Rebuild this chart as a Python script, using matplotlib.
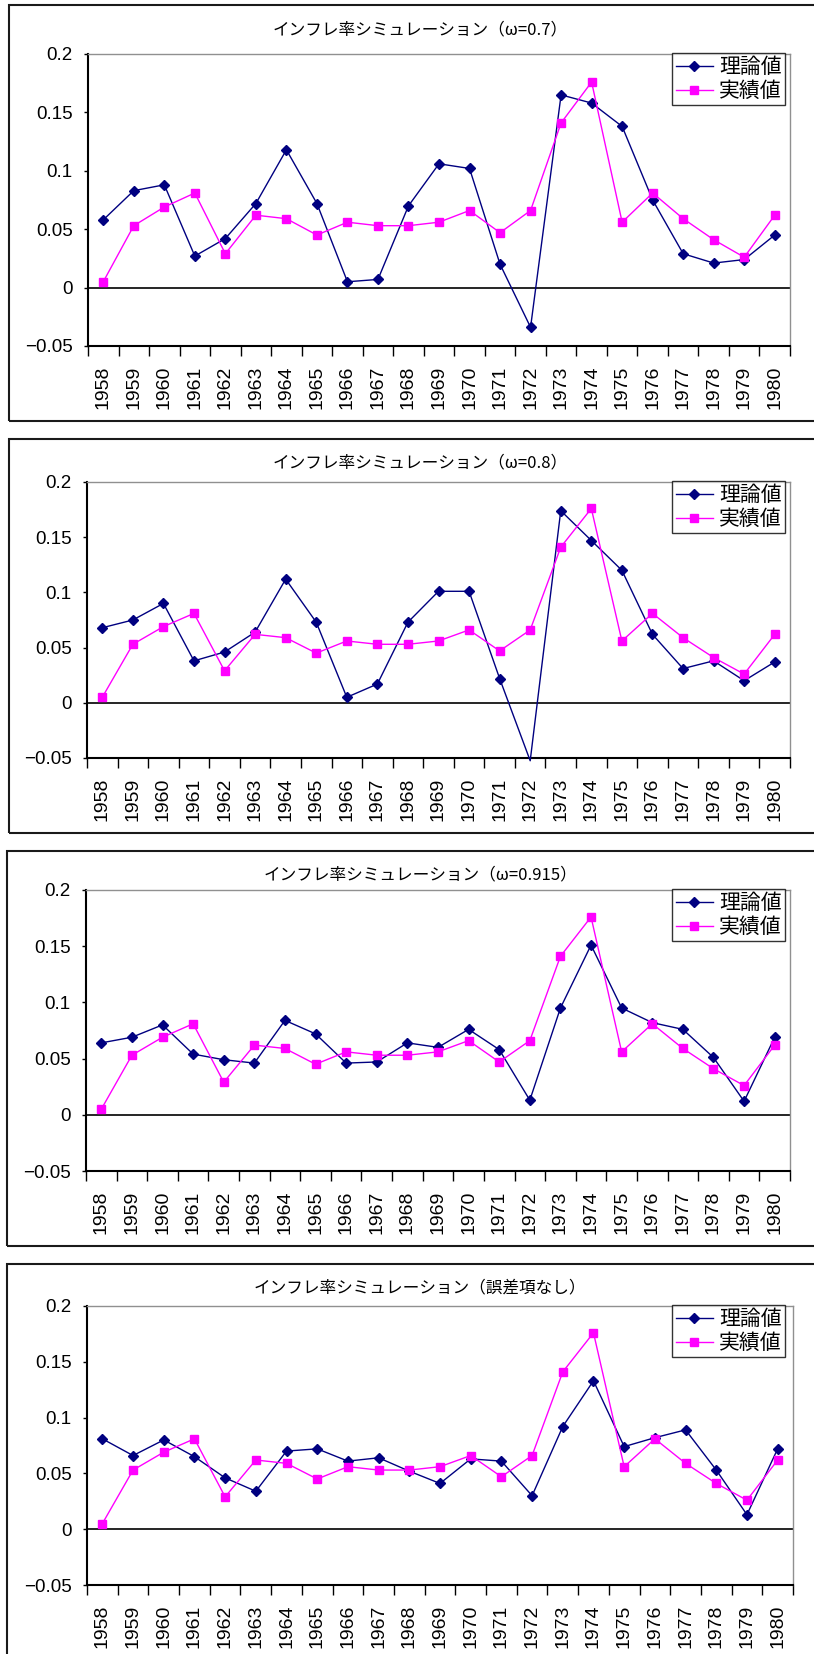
import numpy as np
import matplotlib
matplotlib.use("Agg")
import matplotlib.pyplot as plt
from matplotlib.patches import Rectangle

plt.rcParams['font.family'] = ['Liberation Sans', 'Noto Sans CJK JP', 'DejaVu Sans']
JP = ['Noto Sans CJK JP', 'DejaVu Sans']

years = [str(y) for y in range(1958, 1981)]

# 実績値 (same in every panel)
actual = [0.005, 0.053, 0.069, 0.081, 0.029, 0.062, 0.059, 0.045, 0.056, 0.053, 0.053,
          0.056, 0.066, 0.047, 0.066, 0.141, 0.176, 0.056, 0.081, 0.059, 0.041, 0.026, 0.062]

# 理論値 for each simulation
theory_07 = [0.058, 0.083, 0.088, 0.027, 0.042, 0.072, 0.118, 0.072, 0.005, 0.007, 0.070,
             0.106, 0.102, 0.020, -0.034, 0.165, 0.158, 0.138, 0.075, 0.029, 0.021, 0.024, 0.045]
theory_08 = [0.068, 0.075, 0.090, 0.038, 0.046, 0.064, 0.112, 0.073, 0.005, 0.017, 0.073,
             0.101, 0.101, 0.022, -0.0525, 0.174, 0.147, 0.120, 0.062, 0.031, 0.038, 0.020, 0.037]
theory_0915 = [0.064, 0.069, 0.080, 0.054, 0.049, 0.046, 0.084, 0.072, 0.046, 0.047, 0.064,
               0.060, 0.076, 0.058, 0.013, 0.095, 0.151, 0.095, 0.082, 0.076, 0.051, 0.012, 0.069]
theory_none = [0.081, 0.066, 0.080, 0.065, 0.046, 0.034, 0.070, 0.072, 0.061, 0.064, 0.052,
               0.041, 0.063, 0.061, 0.030, 0.092, 0.133, 0.074, 0.082, 0.089, 0.053, 0.013, 0.072]

titles = ['インフレ率シミュレーション（ω=0.7）',
          'インフレ率シミュレーション（ω=0.8）',
          'インフレ率シミュレーション（ω=0.915）',
          'インフレ率シミュレーション（誤差項なし）']
theories = [theory_07, theory_08, theory_0915, theory_none]

W, H = 814, 1654
fig = plt.figure(figsize=(W / 100, H / 100), dpi=100)

# pixel boxes: (left, top, right, bottom) of plot area, frame top/bottom, title y
axes_px = [(88, 54, 790, 346), (87, 482, 790, 758), (86, 890, 790, 1171), (87, 1306, 793, 1585)]
frames_px = [(9, 5, 421), (9, 439, 833), (7, 851, 1246), (7, 1264, 1700)]
title_y = [30, 463, 875, 1288]

x = np.arange(len(years))

for i in range(4):
    fl, ft, fb = frames_px[i]
    fig.add_artist(Rectangle((fl / W, 1 - fb / H), (W + 20 - fl) / W, (fb - ft) / H,
                             transform=fig.transFigure, fill=False,
                             edgecolor='#1a1a1a', lw=1.5))
    l, t, r, b = axes_px[i]
    ax = fig.add_axes([l / W, 1 - b / H, (r - l) / W, (b - t) / H])

    th = theories[i]
    marks = [k for k, v in enumerate(th) if v >= -0.05]
    ax.axhline(0, color='black', lw=1.2, zorder=1)
    ax.plot(x, th, color='#000080', marker='D', ms=5.5, lw=1.0, label='理論値',
            markevery=marks, clip_on=False, zorder=3)
    ax.plot(x, actual, color='#FF00FF', marker='s', ms=5.5, lw=1.0, label='実績値',
            zorder=4)

    ax.set_xlim(-0.5, len(years) - 0.5)
    ax.set_ylim(-0.05, 0.2)
    ax.set_yticks([-0.05, 0, 0.05, 0.1, 0.15, 0.2])
    ax.set_yticklabels(['−0.05', '0', '0.05', '0.1', '0.15', '0.2'])
    ax.tick_params(axis='y', length=3, width=1, pad=8, labelsize=13.5, direction='out')

    ax.set_xticks(np.arange(-0.5, len(years), 1))
    ax.set_xticklabels([])
    ax.set_xticks(x, minor=True)
    ax.set_xticklabels(years, minor=True, rotation=90)
    ax.tick_params(axis='x', which='major', length=7, width=1, direction='out')
    ax.tick_params(axis='x', which='minor', length=0, pad=14, labelsize=14)

    for s in ['left', 'bottom']:
        ax.spines[s].set_color('black')
        ax.spines[s].set_linewidth(1.5)
    for s in ['top', 'right']:
        ax.spines[s].set_color('#909090')
        ax.spines[s].set_linewidth(1.0)

    fig.text(420 / W, 1 - title_y[i] / H, titles[i], ha='center', va='center',
             fontsize=12, family=JP)

    leg = ax.legend(loc='upper right', bbox_to_anchor=(785 / W, 1 - (t - 1) / H),
                    bbox_transform=fig.transFigure, prop={'family': JP, 'size': 15},
                    frameon=True, fancybox=False, borderpad=0.15, labelspacing=0.1,
                    handlelength=1.8, handletextpad=0.3, borderaxespad=0)
    leg.get_frame().set_edgecolor('black')
    leg.get_frame().set_linewidth(1.0)

fig.savefig('out.png', dpi=100)
